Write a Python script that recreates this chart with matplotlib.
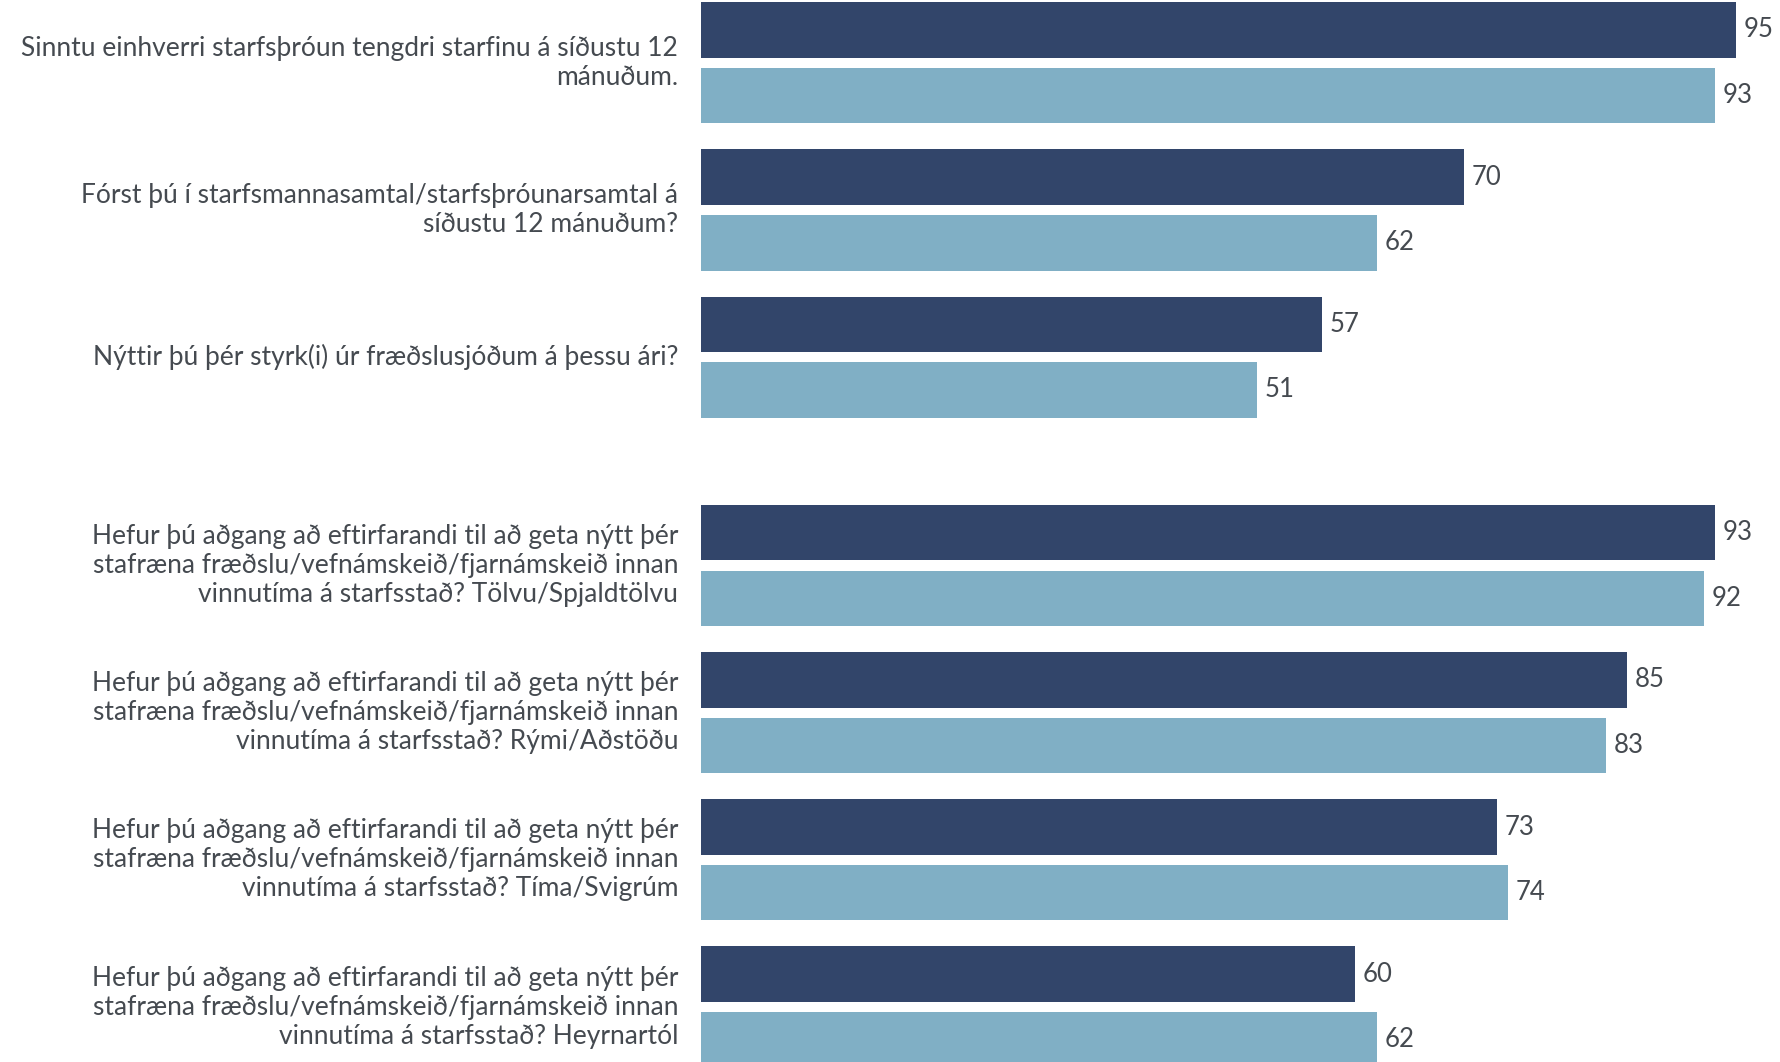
import matplotlib
matplotlib.use('Agg')
import matplotlib.pyplot as plt
import numpy as np

questions = [
    'Sinntu einhverri starfsþróun tengdri starfinu á síðustu 12\nmánuðum.',
    'Fórst þú í starfsmannasamtal/starfsþróunarsamtal á\nsíðustu 12 mánuðum?',
    'Nýttir þú þér styrk(i) úr fræðslusjóðum á þessu ári?',
    'Hefur þú aðgang að eftirfarandi til að geta nýtt þér\nstafræna fræðslu/vefnámskeið/fjarnámskeið innan\nvinnutíma á starfsstað? Tölvu/Spjaldtölvu',
    'Hefur þú aðgang að eftirfarandi til að geta nýtt þér\nstafræna fræðslu/vefnámskeið/fjarnámskeið innan\nvinnutíma á starfsstað? Rými/Aðstöðu',
    'Hefur þú aðgang að eftirfarandi til að geta nýtt þér\nstafræna fræðslu/vefnámskeið/fjarnámskeið innan\nvinnutíma á starfsstað? Tíma/Svigrúm',
    'Hefur þú aðgang að eftirfarandi til að geta nýtt þér\nstafræna fræðslu/vefnámskeið/fjarnámskeið innan\nvinnutíma á starfsstað? Heyrnartól',
]
series_a = [95, 70, 57, 93, 85, 73, 60]
series_b = [93, 62, 51, 92, 83, 74, 62]

dark = '#32456a'
light = '#80afc5'
text_col = '#454a50'

# layout (in units of one group pitch)
bar_h = 0.377
offset = 0.446
block_gap = 0.415

idx = np.arange(len(questions))
tops = idx + np.where(idx >= 3, block_gap, 0.0)

fig = plt.figure(figsize=(17.8, 10.62), dpi=100)
ax = fig.add_axes([0.394, 0.0, 0.606, 1.0])

ax.barh(tops, series_a, height=bar_h, align='edge', color=dark)
ax.barh(tops + offset, series_b, height=bar_h, align='edge', color=light)

for t, a, b in zip(tops, series_a, series_b):
    ax.text(a + 0.7, t + bar_h / 2, str(a), va='center', ha='left',
            fontsize=18.5, color=text_col, family='Lato')
    ax.text(b + 0.7, t + offset + bar_h / 2, str(b), va='center', ha='left',
            fontsize=18.5, color=text_col, family='Lato')

ax.set_xlim(0, 99.0)
ax.set_ylim(7.2, -0.015)
ax.axis('off')

for t, q in zip(tops, questions):
    y = t + (offset + bar_h) / 2
    yf = ax.transData.transform((0, y))[1] / fig.bbox.height
    fig.text(0.381, yf, q, ha='right', va='center', fontsize=19,
             color=text_col, family='Lato', linespacing=1.2)

fig.savefig('out.png', dpi=100, facecolor='white')
